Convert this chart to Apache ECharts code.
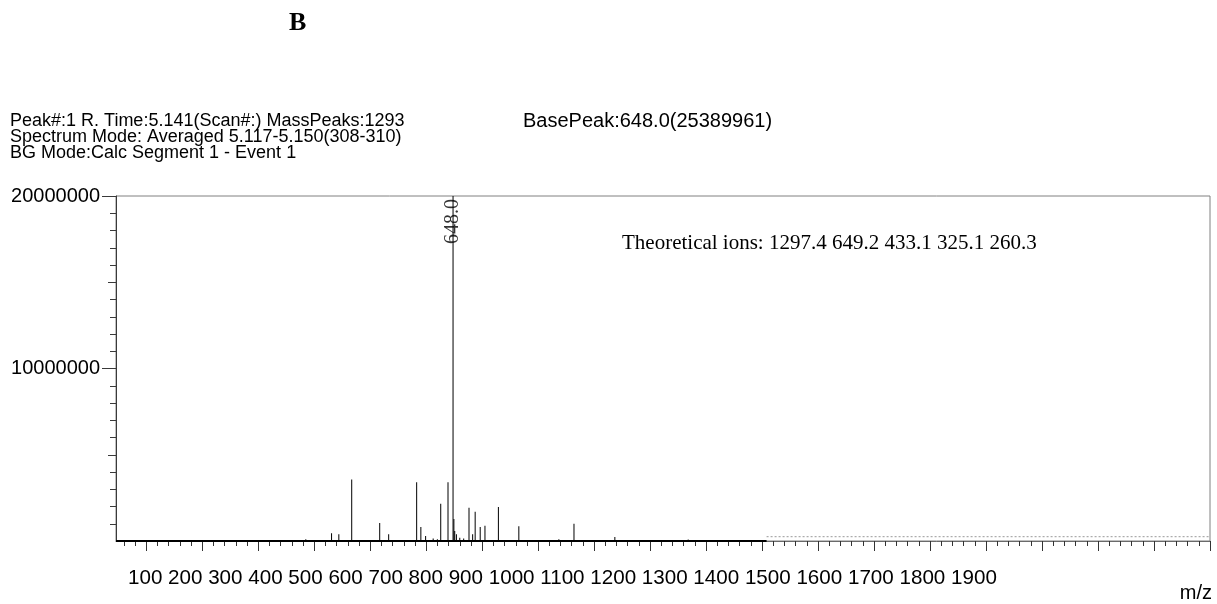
<!DOCTYPE html>
<html><head><meta charset="utf-8">
<script src="https://cdn.jsdelivr.net/npm/echarts@6/dist/echarts.min.js"></script>
<style>html,body{margin:0;padding:0;background:#fff}#c{width:1217px;height:604px}</style>
</head><body><div id="c"></div>
<script>
// ---- data ----
const mz = [300, 350, 385, 431, 444, 467, 517, 533, 583, 590.5, 599, 612.5, 620, 626, 639, 648.0, 649.5, 651, 654, 660, 667, 676.5, 683, 687.5, 696.5, 705, 714, 729, 765.5, 837, 864, 880, 937, 1068];
const intensity = [50000, 50000, 100000, 450000, 390000, 3570000, 1040000, 390000, 3400000, 810000, 290000, 150000, 100000, 2160000, 3400000, 25389961, 1270000, 580000, 390000, 190000, 140000, 1930000, 390000, 1700000, 810000, 890000, 60000, 1970000, 850000, 100000, 1000000, 50000, 230000, 80000];
const basePeakMz = 648.0;
const acquiredRange = [46, 1208];          // solid baseline of the acquired data
const noiseLevelMz = [1208, 2000];         // dotted continuation
const noiseLevelValue = [250000, 250000];
const xTickLabels = ['100','200','300','400','500','600','700','800','900','1000','1100','1200','1300','1400','1500','1600','1700','1800','1900'];
const xMajorTicks = [100,200,300,400,500,600,700,800,900,1000,1100,1200,1300,1400,1500,1600,1700,1800,1900,2000];
const yMajorTicks = [10000000, 20000000];
const yTickLabels = ['10000000', '20000000'];
const yMidTicks = [5000000, 15000000];
const headerLines = ['Peak#:1 R. Time:5.141(Scan#:) MassPeaks:1293', 'Spectrum Mode: Averaged 5.117-5.150(308-310)', 'BG Mode:Calc Segment 1 - Event 1'];
const basePeakText = 'BasePeak:648.0(25389961)';
const theoreticalText = 'Theoretical ions: 1297.4 649.2 433.1 325.1 260.3';
const panelLabel = 'B';
const xAxisName = 'm/z';

const xMinorTicks = [60, 80];
xMajorTicks.forEach(function (t) { if (t < 2000) { for (let k = 1; k < 5; k++) xMinorTicks.push(t + 20 * k); } });
const yMinorTicks = [];
for (let k = 1; k < 20; k++) { if (k % 5 !== 0) yMinorTicks.push(k * 1000000); }

const SANS = "'Liberation Sans', Arial, Helvetica, sans-serif";
const SERIF = "'Liberation Serif', 'Times New Roman', serif";
const X_MIN = 46, X_MAX = 2000, Y_MAX = 20000000;
const TICK = '#3a3a3a';

function yAx(ticks, len, withLine, withLabels) {
  return {type: 'value', min: 0, max: Y_MAX, position: 'left', offset: 0,
    axisLine: {show: withLine, lineStyle: {color: TICK}},
    axisTick: {show: true, customValues: ticks, length: len, lineStyle: {color: TICK}},
    axisLabel: withLabels ? {show: true, customValues: yMajorTicks, margin: 16, fontSize: 20, color: '#000', fontFamily: SANS,
        formatter: function (v) { const i = yMajorTicks.indexOf(v); return i >= 0 ? yTickLabels[i] : ''; }} : {show: false},
    splitLine: {show: false}};
}

const chart = echarts.init(document.getElementById('c'), null, {renderer: 'canvas'});
chart.setOption({
  animation: false,
  backgroundColor: '#fff',
  grid: {left: 116, top: 196, right: 7, bottom: 63, show: true, borderColor: '#808080', borderWidth: 1},
  xAxis: [
    {type: 'value', min: X_MIN, max: X_MAX, position: 'bottom',
     axisLine: {show: true, lineStyle: {color: '#6a6a6a', width: 1}},
     axisTick: {show: true, customValues: xMajorTicks, length: 10, lineStyle: {color: '#333'}},
     axisLabel: {show: false}, splitLine: {show: false}},
    {type: 'value', min: X_MIN, max: X_MAX, position: 'bottom', offset: 0,
     axisLine: {show: false},
     axisTick: {show: true, customValues: xMinorTicks, length: 5, lineStyle: {color: '#333'}},
     axisLabel: {show: false}, splitLine: {show: false}}
  ],
  yAxis: [
    yAx(yMajorTicks, 14, true, true),
    yAx(yMidTicks, 8, false, false),
    yAx(yMinorTicks, 6, false, false)
  ],
  series: [
    {type: 'line', name: 'baseline', xAxisIndex: 0, yAxisIndex: 0,
     data: [[acquiredRange[0], 0], [acquiredRange[1], 0]], symbol: 'none',
     lineStyle: {color: '#000', width: 2}, silent: true, z: 3},
    {type: 'line', name: 'noise', xAxisIndex: 0, yAxisIndex: 0,
     data: noiseLevelMz.map(function (m, i) { return [m, noiseLevelValue[i]]; }), symbol: 'none',
     lineStyle: {color: '#9a9a9a', width: 1, type: [2, 2]}, silent: true, z: 3},
    {type: 'bar', name: 'spectrum', xAxisIndex: 0, yAxisIndex: 0,
     data: mz.map(function (m, i) { return [m, intensity[i]]; }),
     barWidth: 1, itemStyle: {color: '#000'}, clip: true, z: 4},
    {type: 'scatter', name: 'peakLabel', xAxisIndex: 0, yAxisIndex: 0,
     data: [[basePeakMz, Y_MAX]], symbolSize: 0, clip: false, silent: true, z: 5,
     label: {show: true, position: [0, 3], rotate: 90, align: 'right', verticalAlign: 'middle',
             formatter: function (p) { return p.value[0].toFixed(1); },
             fontFamily: SERIF, fontSize: 20, color: '#000'}}
  ],
  graphic: [
    {type: 'text', left: 289, top: 10, style: {text: panelLabel, font: "bold 26px " + SERIF, fill: '#000'}},
    {type: 'text', x: 10, y: 121, style: {text: headerLines[0], font: "18px " + SANS, fill: '#000', verticalAlign: 'middle'}},
    {type: 'text', x: 10, y: 137, style: {text: headerLines[1], font: "18px " + SANS, fill: '#000', verticalAlign: 'middle'}},
    {type: 'text', x: 10, y: 153, style: {text: headerLines[2], font: "18px " + SANS, fill: '#000', verticalAlign: 'middle'}},
    {type: 'text', x: 523, y: 121, style: {text: basePeakText, font: "20px " + SANS, fill: '#000', verticalAlign: 'middle'}},
    {type: 'text', x: 622, y: 243, style: {text: theoreticalText, font: "21px " + SERIF, fill: '#000', verticalAlign: 'middle'}},
    {type: 'text', x: 128, y: 578, style: {text: xTickLabels.join(' '), font: "20.6px " + SANS, fill: '#000', verticalAlign: 'middle'}},
    {type: 'text', x: 1212, y: 593, style: {text: xAxisName, font: "20px " + SANS, fill: '#000', align: 'right', verticalAlign: 'middle'}}
  ]
});
</script></body></html>
